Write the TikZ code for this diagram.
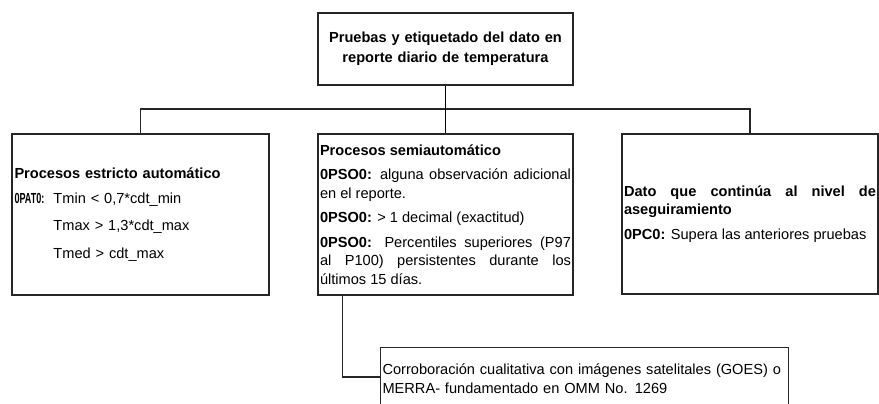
\documentclass[tikz,border=0pt]{standalone}
\usepackage{fontspec}
\usepackage{graphicx}
\setmainfont{Liberation Sans}
\usetikzlibrary{positioning}
\tikzset{
  box/.style={draw=black!85, line width=1.1pt, inner xsep=2pt, inner ysep=2pt,
              execute at begin node={\hyphenpenalty=10000\exhyphenpenalty=10000}},
  boxfont/.style={font=\fontsize{14.6}{18.5}\selectfont},
  link/.style={draw=black!85, line width=1.1pt},
}
\newcommand\gapline{\par\vspace{6pt}}
\newcommand\tabin{\hspace*{39pt}}

\begin{document}
\begin{tikzpicture}[x=1pt,y=-1pt]
  \useasboundingbox (0,0) rectangle (879,404);
  \clip (0,0) rectangle (879,404);
  % top box:
  \node[box, minimum width=255, minimum height=72, text width=250, align=center,
        font=\bfseries\fontsize{14.6}{20}\selectfont] (top) at (445.5,49)
        {Pruebas y etiquetado del dato en\\reporte diario de temperatura};
  % strictly automatic tests:
  \node[box, boxfont, minimum width=257, minimum height=161, text width=252, align=left] (left) at (140.5,214.5)
        {\textbf{Procesos estricto automático}\gapline
         \makebox[39pt][l]{\scalebox{0.62}[1]{\textbf{0PAT0:}}}Tmin < 0,7*cdt\_min\par\vspace{9pt}
         \tabin Tmax > 1,3*cdt\_max\par\vspace{9pt}
         \tabin Tmed > cdt\_max};
  % semi-automatic tests:
  \node[box, boxfont, minimum width=255, minimum height=161, text width=251, align=justify] (mid) at (445.5,214.5)
        {\textbf{Procesos semiautomático}\gapline
         \textbf{0PSO0:} alguna observación adicional en el reporte.\gapline
         \textbf{0PSO0:} > 1 decimal (exactitud)\gapline
         \textbf{0PSO0:} Percentiles superiores (P97\linebreak al P100) persistentes durante los últimos 15 días.};
  % data that passes on:
  \node[box, boxfont, minimum width=256, minimum height=160, text width=252, align=justify] (right) at (750,214)
        {\textbf{Dato que continúa al nivel de aseguiramiento}\gapline
         \textbf{0PC0:} Supera las anteriores pruebas};
  % qualitative check:
  \node[box, boxfont, minimum width=408, minimum height=62, text width=404, align=left, anchor=north west] (bot) at (380,347)
        {Corroboración cualitativa con imágenes satelitales (GOES) o\\MERRA- fundamentado en OMM No. 1269};
  % connectors:
  \coordinate (bus) at (445.5,109);
  \draw[link] (left.north) |- (bus) -| (right.north);
  \draw[link, line width=1.8pt, black] (top.south) -- (mid.north);
  \draw[link] ([xshift=25pt]mid.south west) |- ([yshift=-30pt]bot.north west);
\end{tikzpicture}
\end{document}
